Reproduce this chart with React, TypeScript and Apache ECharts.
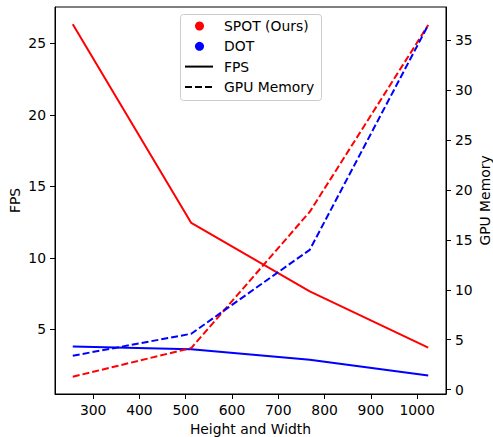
import React, { useEffect, useRef } from "react";
import * as echarts from "echarts";

const sizes = [256, 512, 768, 1024];
const spotFps = [26.35, 12.44, 7.65, 3.72];
const dotFps = [3.79, 3.6, 2.86, 1.77];
const spotMem = [1.3, 4.17, 17.8, 36.5];
const dotMem = [3.4, 5.6, 14.0, 36.5];
const xTicks = [300, 400, 500, 600, 700, 800, 900, 1000];
const fpsTicks = [5, 10, 15, 20, 25];
const memTicks = [0, 5, 10, 15, 20, 25, 30, 35];
const legendMarkers = ["SPOT (Ours)", "DOT"];
const legendLines = ["FPS", "GPU Memory"];
const leftAxisName = "FPS";
const rightAxisName = "GPU Memory";

const FONT = "DejaVu Sans";
const FS = 13.9;

export default function App() {
  const ref = useRef<HTMLDivElement>(null);
  useEffect(() => {
    if (!ref.current) return;
    const chart = echarts.init(ref.current, undefined, { renderer: "svg" });
    const pairs = (ys: number[]) => sizes.map((x, i) => [x, ys[i]]);
    const axisCommon = {
      axisLine: { show: true, onZero: false, lineStyle: { color: "#000", width: 1 } },
      axisTick: { show: true, inside: false, length: 5, lineStyle: { color: "#000", width: 1 } },
      splitLine: { show: false },
      nameTextStyle: { fontFamily: FONT, fontSize: FS, color: "#000" },
    };
    const labelCommon = {
      fontFamily: FONT,
      fontSize: FS,
      color: "#000",
      margin: 9,
      formatter: (v: number) => String(v),
    };
    const lineSeries = (name: string, ys: number[], color: string, axis: number, dashed: boolean) => ({
      name,
      type: "line",
      yAxisIndex: axis,
      data: pairs(ys),
      symbol: "none",
      lineStyle: { color, width: 2, type: dashed ? [7, 3] : "solid" },
      z: dashed ? 3 : 2,
    });
    const colors = ["#ff0000", "#0000ff"];
    const axisNameText = (text: string, x: number) => ({
      type: "text",
      x,
      y: 200.5,
      rotation: Math.PI / 2,
      style: { text, fontFamily: FONT, fontSize: FS, fill: "#000", align: "center", verticalAlign: "middle" },
    });
    const graphic: any[] = [
      {
        type: "rect",
        shape: { x: 180.5, y: 14.5, width: 141, height: 86, r: 3 },
        style: { fill: "rgba(255,255,255,0.8)", stroke: "#cccccc", lineWidth: 1 },
        z: 10,
      },
      axisNameText(leftAxisName, 15),
      axisNameText(rightAxisName, 485),
    ];
    legendMarkers.forEach((t, i) => {
      const cy = 26 + i * 20.3;
      graphic.push({ type: "circle", shape: { cx: 199.5, cy, r: 4.5 }, style: { fill: colors[i] }, z: 11 });
      graphic.push({
        type: "text",
        x: 224,
        y: cy,
        style: { text: t, fontFamily: FONT, fontSize: FS, fill: "#000", verticalAlign: "middle", align: "left" },
        z: 11,
      });
    });
    legendLines.forEach((t, i) => {
      const cy = 66.6 + i * 20.3;
      graphic.push({
        type: "line",
        shape: { x1: 185, y1: cy, x2: 213, y2: cy },
        style: { stroke: "#000", lineWidth: 2, lineDash: i === 1 ? [7, 3] : null },
        z: 11,
      });
      graphic.push({
        type: "text",
        x: 224,
        y: cy,
        style: { text: t, fontFamily: FONT, fontSize: FS, fill: "#000", verticalAlign: "middle", align: "left" },
        z: 11,
      });
    });
    chart.setOption({
      animation: false,
      backgroundColor: "#fff",
      textStyle: { fontFamily: FONT },
      grid: {
        left: 55,
        right: 47,
        top: 7,
        bottom: 43,
        containLabel: false,
        outerBoundsMode: "none",
        show: true,
        borderColor: "#000",
        borderWidth: 1,
        backgroundColor: "transparent",
      },
      xAxis: {
        type: "value",
        min: 217.6,
        max: 1062.4,
        name: "Height and Width",
        nameLocation: "middle",
        nameGap: 27,
        ...axisCommon,
        axisTick: { ...axisCommon.axisTick, customValues: xTicks },
        axisLabel: { ...labelCommon, customValues: xTicks },
      },
      yAxis: [
        {
          type: "value",
          position: "left",
          min: 0.47,
          max: 27.55,
          ...axisCommon,
          axisTick: { ...axisCommon.axisTick, customValues: fpsTicks },
          axisLabel: { ...labelCommon, customValues: fpsTicks },
        },
        {
          type: "value",
          position: "right",
          min: -0.43,
          max: 38.3,
          ...axisCommon,
          axisTick: { ...axisCommon.axisTick, customValues: memTicks },
          axisLabel: { ...labelCommon, customValues: memTicks },
        },
      ],
      graphic,
      series: [
        lineSeries("SPOT FPS", spotFps, colors[0], 0, false),
        lineSeries("DOT FPS", dotFps, colors[1], 0, false),
        lineSeries("SPOT GPU Memory", spotMem, colors[0], 1, true),
        lineSeries("DOT GPU Memory", dotMem, colors[1], 1, true),
      ],
    });
    return () => chart.dispose();
  }, []);
  return <div ref={ref} style={{ width: 493, height: 437, position: "absolute", left: 0, top: 0 }} />;
}
